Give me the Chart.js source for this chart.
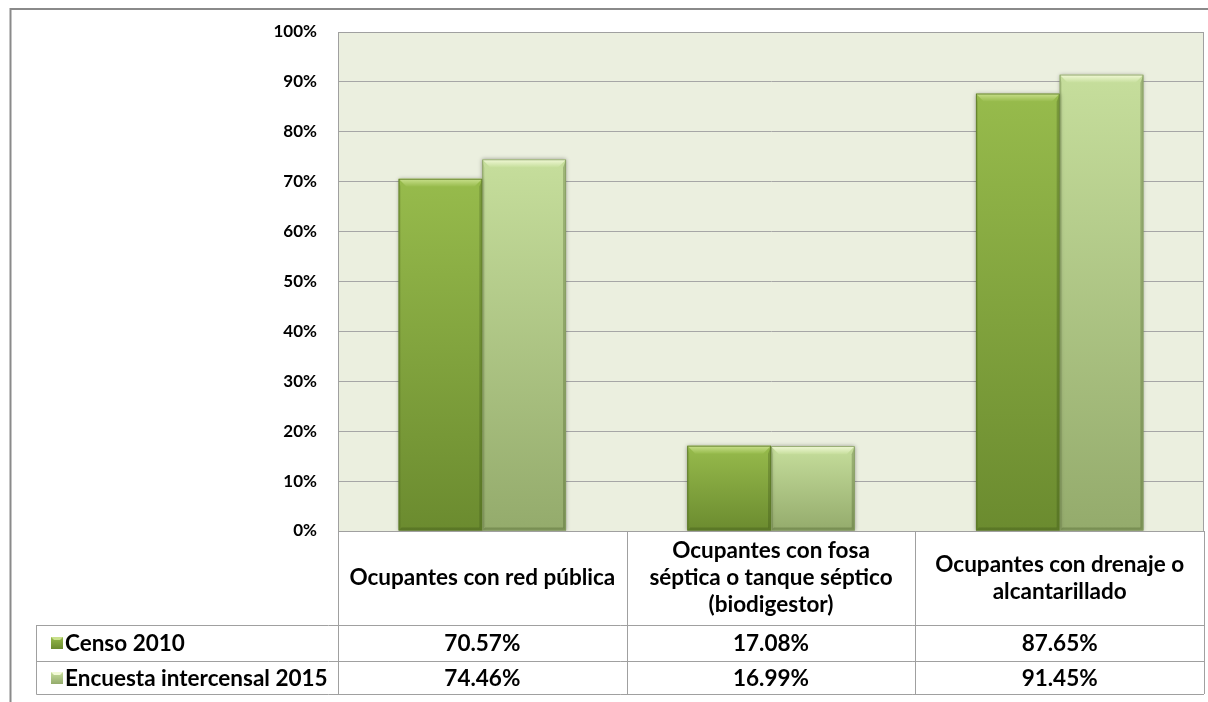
<!DOCTYPE html>
<html><head><meta charset="utf-8">
<script src="https://cdn.jsdelivr.net/npm/chart.js@4.4.1/dist/chart.umd.min.js"></script>
<style>html,body{margin:0;padding:0;background:#fff;overflow:hidden}</style>
</head><body>
<canvas id="c" width="1208" height="702" style="width:1208px;height:702px;display:block"></canvas>
<script>
// ---- data ----
const categories = [
  ["Ocupantes con red pública"],
  ["Ocupantes con fosa", "séptica o tanque séptico", "(biodigestor)"],
  ["Ocupantes con drenaje o", "alcantarillado"]
];
const seriesNames = ["Censo 2010", "Encuesta intercensal 2015"];
const censo2010 = [70.57, 17.08, 87.65];
const encuesta2015 = [74.46, 16.99, 91.45];
const censoLabels = ["70.57%", "17.08%", "87.65%"];
const encuestaLabels = ["74.46%", "16.99%", "91.45%"];
const yTickValues = [0, 10, 20, 30, 40, 50, 60, 70, 80, 90, 100];

// ---- styles ----
const FONT = "Lato";
const TABLE_FONT_SIZE = 22.5;
const TICK_FONT_SIZE = 17;
const GRID = "#a6a6a6";
const PLOT_BG = "#ebefdf";
const palettes = [
  {top: "#97bb4c", bottom: "#6b8b2f", bevel: "#c9e08c", edge: "#5d7a28"},
  {top: "#c6de9c", bottom: "#94ab6c", bevel: "#f1f9d6", edge: "#869d62"}
];

function barGradient(ctx, dsIndex) {
  const chart = ctx.chart;
  const pal = palettes[dsIndex];
  if (!chart.chartArea || !chart.scales.y) return pal.top;
  const ys = chart.scales.y;
  const v = ctx.raw;
  const top = ys.getPixelForValue(v);
  const base = ys.getPixelForValue(0);
  if (!isFinite(top) || !isFinite(base) || Math.abs(base - top) < 1) return pal.top;
  const g = chart.ctx.createLinearGradient(0, top, 0, base);
  g.addColorStop(0, pal.top);
  g.addColorStop(1, pal.bottom);
  return g;
}

const framePlugin = {
  id: "frame",
  beforeDraw(chart) {
    const {ctx, chartArea: a} = chart;
    ctx.save();
    ctx.fillStyle = "#ffffff";
    ctx.fillRect(0, 0, chart.width, chart.height);
    ctx.fillStyle = PLOT_BG;
    ctx.fillRect(a.left, a.top, a.right - a.left, a.bottom - a.top);
    // outer frame
    ctx.strokeStyle = "#8a8a8a";
    ctx.lineWidth = 2;
    ctx.beginPath();
    ctx.moveTo(10.5, chart.height);
    ctx.lineTo(10.5, 9);
    ctx.lineTo(chart.width, 9);
    ctx.stroke();
    ctx.restore();
  },
  beforeDatasetsDraw(chart) {
    const ctx = chart.ctx;
    ctx.save();
    ctx.shadowColor = "rgba(0,0,0,0.35)";
    ctx.shadowBlur = 4;
    ctx.shadowOffsetX = 0;
    ctx.shadowOffsetY = 0;
  },
  afterDatasetsDraw(chart) {
    const ctx = chart.ctx;
    ctx.restore();
    ctx.save();
    chart.data.datasets.forEach((ds, di) => {
      const meta = chart.getDatasetMeta(di);
      const pal = palettes[di];
      meta.data.forEach(el => {
        const l = el.x - el.width / 2, r = el.x + el.width / 2;
        const t = el.y, b = el.base;
        const bv = 8;
        // top bevel
        const g = ctx.createLinearGradient(0, t, 0, t + bv);
        g.addColorStop(0, pal.bevel);
        g.addColorStop(1, pal.top);
        ctx.fillStyle = g;
        ctx.beginPath();
        ctx.moveTo(l, t); ctx.lineTo(r, t); ctx.lineTo(r - bv, t + bv); ctx.lineTo(l + bv, t + bv); ctx.closePath();
        ctx.fill();
        // right edge darker
        ctx.fillStyle = "rgba(40,60,10,0.25)";
        ctx.beginPath();
        ctx.moveTo(r, t); ctx.lineTo(r, b); ctx.lineTo(r - 3, b - 3); ctx.lineTo(r - 3, t + bv); ctx.closePath();
        ctx.fill();
        // left edge slight
        ctx.fillStyle = "rgba(40,60,10,0.12)";
        ctx.beginPath();
        ctx.moveTo(l, t); ctx.lineTo(l + 2, t + bv); ctx.lineTo(l + 2, b - 2); ctx.lineTo(l, b); ctx.closePath();
        ctx.fill();
        // bottom edge
        ctx.fillStyle = "rgba(40,60,10,0.25)";
        ctx.beginPath();
        ctx.moveTo(l, b); ctx.lineTo(r, b); ctx.lineTo(r - 3, b - 3); ctx.lineTo(l + 3, b - 3); ctx.closePath();
        ctx.fill();
        ctx.strokeStyle = pal.edge;
        ctx.lineWidth = 0.8;
        ctx.strokeRect(l + 0.4, t + 0.4, r - l - 0.8, b - t - 0.8);
      });
    });
    ctx.restore();
  },
  afterDraw(chart) {
    const {ctx, chartArea: a} = chart;
    const xs = chart.scales.x;
    const n = categories.length;
    const colW = (a.right - a.left) / n;
    const headTop = a.bottom, headBot = a.bottom + 94;
    const rowBounds = [[headBot, headBot + 36], [headBot + 36, headBot + 69]];
    const tableLeft = 36;
    ctx.save();
    ctx.strokeStyle = "#a0a0a0";
    ctx.lineWidth = 1;
    // plot border
    ctx.strokeRect(a.left + 0.5, a.top + 0.5, a.right - a.left - 1, a.bottom - a.top);
    // header verticals
    ctx.beginPath();
    for (let i = 0; i <= n; i++) {
      const x = Math.round(a.left + i * colW) + 0.5;
      ctx.moveTo(x, headTop); ctx.lineTo(x, rowBounds[1][1]);
    }
    // horizontal lines
    ctx.moveTo(tableLeft + 0.5, rowBounds[0][0] + 0.5); ctx.lineTo(a.right, rowBounds[0][0] + 0.5);
    ctx.moveTo(tableLeft + 0.5, rowBounds[1][0] + 0.5); ctx.lineTo(a.right, rowBounds[1][0] + 0.5);
    ctx.moveTo(tableLeft + 0.5, rowBounds[1][1] + 0.5); ctx.lineTo(a.right, rowBounds[1][1] + 0.5);
    ctx.moveTo(tableLeft + 0.5, rowBounds[0][0]); ctx.lineTo(tableLeft + 0.5, rowBounds[1][1] + 0.5);
    ctx.stroke();

    ctx.fillStyle = "#000";
    ctx.font = "bold " + TABLE_FONT_SIZE + "px " + FONT;
    ctx.textAlign = "center";
    ctx.textBaseline = "middle";
    const lh = 27;
    categories.forEach((lines, i) => {
      const cx = xs.getPixelForValue(i);
      const cy = (headTop + headBot) / 2;
      const y0 = cy - (lines.length - 1) * lh / 2;
      lines.forEach((s, k) => ctx.fillText(s, cx, y0 + k * lh));
    });
    const rowsText = [censoLabels, encuestaLabels];
    rowsText.forEach((arr, r) => {
      const cy = (rowBounds[r][0] + rowBounds[r][1]) / 2 + 1;
      arr.forEach((s, i) => ctx.fillText(s, xs.getPixelForValue(i), cy));
    });
    // legend keys
    ctx.textAlign = "left";
    seriesNames.forEach((name, r) => {
      const cy = (rowBounds[r][0] + rowBounds[r][1]) / 2;
      const pal = palettes[r];
      const kx = 51, ks = 12, ky = Math.round(cy - ks / 2);
      const g = ctx.createLinearGradient(0, ky, 0, ky + ks);
      g.addColorStop(0, pal.top); g.addColorStop(1, pal.bottom);
      ctx.fillStyle = g;
      ctx.fillRect(kx, ky, ks, ks);
      ctx.fillStyle = pal.bevel;
      ctx.beginPath();
      ctx.moveTo(kx, ky); ctx.lineTo(kx + ks, ky); ctx.lineTo(kx + ks - 3, ky + 3); ctx.lineTo(kx + 3, ky + 3); ctx.closePath();
      ctx.fill();
      ctx.fillStyle = "#000";
      ctx.fillText(name, 65, cy + 1);
    });
    ctx.restore();
  }
};

new Chart(document.getElementById("c"), {
  type: "bar",
  data: {
    labels: categories,
    datasets: [
      {label: seriesNames[0], data: censo2010, backgroundColor: c => barGradient(c, 0), borderWidth: 0},
      {label: seriesNames[1], data: encuesta2015, backgroundColor: c => barGradient(c, 1), borderWidth: 0}
    ]
  },
  options: {
    responsive: false,
    devicePixelRatio: 1,
    animation: false,
    events: [],
    layout: {padding: {left: 0, right: 4, top: 32, bottom: 171}},
    datasets: {bar: {categoryPercentage: 0.58, barPercentage: 1}},
    plugins: {legend: {display: false}, tooltip: {enabled: false}},
    scales: {
      x: {display: false},
      y: {
        min: 0, max: 100,
        afterFit(s) { s.width = 338; },
        afterBuildTicks(s) { s.ticks = yTickValues.map(v => ({value: v})); },
        border: {display: true, color: "#a0a0a0"},
        grid: {color: GRID, lineWidth: 1, drawTicks: false},
        ticks: {
          padding: 21,
          color: "#000",
          font: {family: FONT, size: TICK_FONT_SIZE, weight: "bold"},
          callback: v => v + "%"
        }
      }
    }
  },
  plugins: [framePlugin]
});
</script>
</body></html>
